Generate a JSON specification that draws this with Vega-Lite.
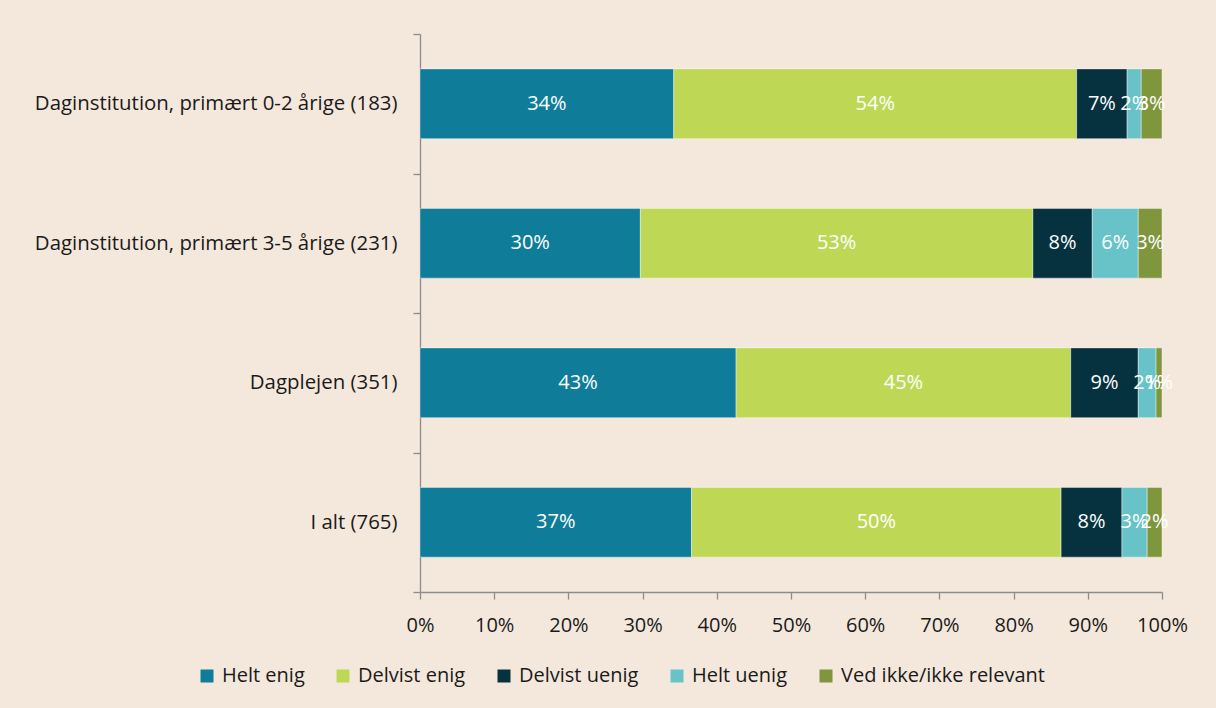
{
  "$schema": "https://vega.github.io/schema/vega-lite/v6.json",
  "autosize": {"type": "none"},
  "width": 742,
  "height": 558,
  "padding": {"left": 420, "top": 34, "right": 54, "bottom": 116},
  "background": "#F4E8DC",
  "config": {
    "font": "Open Sans",
    "view": {"stroke": null},
    "axis": {"labelFont": "Open Sans", "labelColor": "#1a1a1a", "domainColor": "#8c8c8c", "tickColor": "#8c8c8c", "domainWidth": 1.3, "tickWidth": 1.3, "grid": false, "title": null}
  },
  "data": {
    "values": [
      {"gruppe": "Daginstitution, primært 0-2 årige (183)", "svar": "Helt enig", "k": 1, "andel": 0.342},
      {"gruppe": "Daginstitution, primært 0-2 årige (183)", "svar": "Delvist enig", "k": 2, "andel": 0.543},
      {"gruppe": "Daginstitution, primært 0-2 årige (183)", "svar": "Delvist uenig", "k": 3, "andel": 0.068},
      {"gruppe": "Daginstitution, primært 0-2 årige (183)", "svar": "Helt uenig", "k": 4, "andel": 0.019},
      {"gruppe": "Daginstitution, primært 0-2 årige (183)", "svar": "Ved ikke/ikke relevant", "k": 5, "andel": 0.028},
      {"gruppe": "Daginstitution, primært 3-5 årige (231)", "svar": "Helt enig", "k": 1, "andel": 0.297},
      {"gruppe": "Daginstitution, primært 3-5 årige (231)", "svar": "Delvist enig", "k": 2, "andel": 0.529},
      {"gruppe": "Daginstitution, primært 3-5 årige (231)", "svar": "Delvist uenig", "k": 3, "andel": 0.080},
      {"gruppe": "Daginstitution, primært 3-5 årige (231)", "svar": "Helt uenig", "k": 4, "andel": 0.062},
      {"gruppe": "Daginstitution, primært 3-5 årige (231)", "svar": "Ved ikke/ikke relevant", "k": 5, "andel": 0.032},
      {"gruppe": "Dagplejen (351)", "svar": "Helt enig", "k": 1, "andel": 0.426},
      {"gruppe": "Dagplejen (351)", "svar": "Delvist enig", "k": 2, "andel": 0.451},
      {"gruppe": "Dagplejen (351)", "svar": "Delvist uenig", "k": 3, "andel": 0.091},
      {"gruppe": "Dagplejen (351)", "svar": "Helt uenig", "k": 4, "andel": 0.024},
      {"gruppe": "Dagplejen (351)", "svar": "Ved ikke/ikke relevant", "k": 5, "andel": 0.008},
      {"gruppe": "I alt (765)", "svar": "Helt enig", "k": 1, "andel": 0.366},
      {"gruppe": "I alt (765)", "svar": "Delvist enig", "k": 2, "andel": 0.498},
      {"gruppe": "I alt (765)", "svar": "Delvist uenig", "k": 3, "andel": 0.082},
      {"gruppe": "I alt (765)", "svar": "Helt uenig", "k": 4, "andel": 0.034},
      {"gruppe": "I alt (765)", "svar": "Ved ikke/ikke relevant", "k": 5, "andel": 0.020}
    ]
  },
  "encoding": {
    "y": {
      "field": "gruppe", "type": "nominal", "sort": null,
      "scale": {"paddingInner": 0, "paddingOuter": 0},
      "axis": {"tickBand": "extent", "tickSize": 7, "labelPadding": 16, "labelFontSize": 20.4, "labelLimit": 420}
    }
  },
  "layer": [
    {
      "mark": {"type": "bar", "height": {"band": 0.5}, "stroke": "#ffffff", "strokeWidth": 0.8, "strokeOpacity": 0.5},
      "encoding": {
        "x": {
          "field": "andel", "type": "quantitative", "stack": "zero",
          "scale": {"domain": [0, 1], "nice": false},
          "axis": {"values": [0, 0.1, 0.2, 0.3, 0.4, 0.5, 0.6, 0.7, 0.8, 0.9, 1], "format": ".0%", "tickSize": 7, "labelPadding": 16, "labelFontSize": 20, "labelFlush": false, "labelOverlap": false}
        },
        "color": {
          "field": "svar", "type": "nominal",
          "scale": {
            "domain": ["Helt enig", "Delvist enig", "Delvist uenig", "Helt uenig", "Ved ikke/ikke relevant"],
            "range": ["#0F7D99", "#BED856", "#06323F", "#67C3C7", "#7F963D"]
          },
          "legend": {
            "title": null, "orient": "none", "direction": "horizontal",
            "legendX": -223, "legendY": 632, "padding": 0,
            "symbolType": "square", "symbolSize": 169, "symbolStrokeWidth": 0,
            "labelFontSize": 20, "labelFont": "Open Sans", "labelColor": "#1a1a1a",
            "labelOffset": 5, "columnPadding": 28, "labelLimit": 400
          }
        },
        "order": {"field": "k", "type": "quantitative"}
      }
    },
    {
      "mark": {"type": "text", "color": "#ffffff", "fontSize": 20, "font": "Open Sans", "baseline": "middle", "align": "center"},
      "encoding": {
        "x": {"field": "andel", "type": "quantitative", "stack": "zero", "bandPosition": 0.5},
        "text": {"field": "andel", "type": "quantitative", "format": ".0%"},
        "detail": {"field": "svar", "type": "nominal"},
        "order": {"field": "k", "type": "quantitative"}
      }
    }
  ]
}
